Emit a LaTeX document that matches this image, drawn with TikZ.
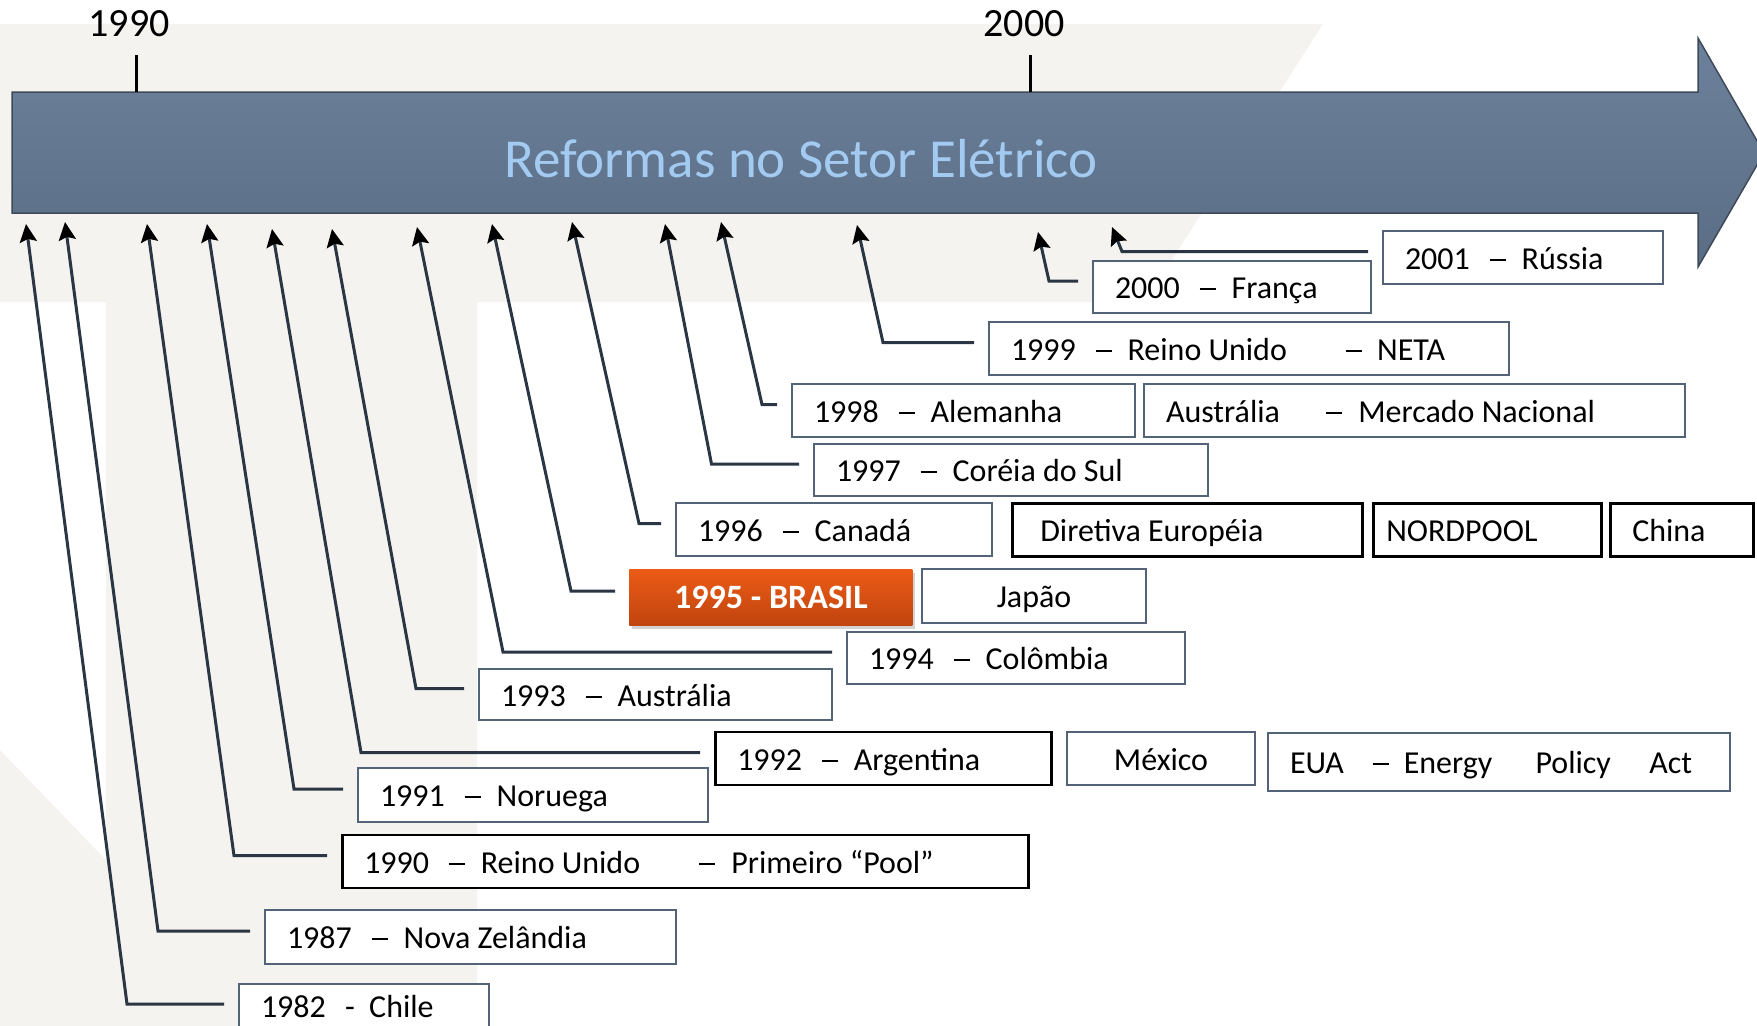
\documentclass[tikz,border=0pt]{standalone}
\usepackage{fontspec}
\setmainfont{Carlito}
\usetikzlibrary{arrows.meta,shadows}
\definecolor{fundo}{HTML}{F4F3EF}
\definecolor{barraA}{HTML}{6C819B}
\definecolor{barraB}{HTML}{5A6D85}
\definecolor{barraC}{HTML}{3E4A59}
\definecolor{titulo}{HTML}{A3CBF2}
\definecolor{caixa}{HTML}{536378}
\definecolor{linha}{HTML}{2A3644}
\definecolor{laranjaA}{HTML}{EC5B16}
\definecolor{laranjaB}{HTML}{C0450F}
\newcommand{\risco}{\rule[.27em]{.5em}{.055em}}
\newcommand{\traco}{\hspace{.62em}\risco\hspace{.5em}}

\begin{document}
\begin{tikzpicture}[x=0.2mm, y=-0.2mm]
	\tikzstyle{evento} = [rectangle, draw=caixa, line width=0.4mm, fill=white, anchor=west, inner xsep=4.4mm, inner ysep=0pt, minimum height=10.6mm, text height=17.1pt, text depth=3.6pt, font=\fontsize{18.2}{21}\selectfont]
	\tikzstyle{forte} = [evento, draw=black, line width=0.5mm]
	\tikzstyle{ano} = [anchor=base, font=\fontsize{22.8}{26}\selectfont]
	\tikzstyle{ligacao} = [draw=linha, line width=0.6mm, -{Stealth[length=3.6mm,width=3.4mm,inset=0.6mm,color=black]}]
	\useasboundingbox (0,0) rectangle (1757,1026);
	% fundo
	\fill[fundo] (0,24) -- (1323,24) -- (1145,302) -- (477,302) -- (477,1026) -- (0,1026)
		-- (0,750) -- (106,860) -- (106,302) -- (0,302) -- cycle;
	% seta do tempo
	\path[draw=barraC, line width=0.3mm, top color=barraA, bottom color=barraB]
		(12,92) -- (1698,92) -- (1698,38) -- (1764,153) -- (1698,267) -- (1698,213) -- (12,213) -- cycle;
	\node[anchor=base, text=titulo, font=\fontsize{31.3}{36}\selectfont](titulo) at (801,177){Reformas no Setor Elétrico};
	\node[ano](a1990) at (129,37){1990};
	\node[ano](a2000) at (1024,37){2000};
	\draw[line width=0.6mm] (136,55) -- (136,92);
	\draw[line width=0.6mm] (1030,55) -- (1030,92);
	% caixas
	\node[evento](russia) at (1382,257.5){\makebox[47.2mm][l]{2001\traco Rússia}};
	\node[evento, minimum height=10.4mm](franca) at (1092,287){\makebox[46.8mm][l]{2000\traco França}};
	\node[evento](neta) at (988,348.5){\makebox[95.2mm][l]{1999\traco Reino Unido\hspace{1.85em}\risco\hspace{.47em}NETA}};
	\node[evento](alemanha) at (791,410.5){\makebox[59.8mm][l]{1998\traco Alemanha}};
	\node[evento](mercado) at (1143,410.5){\makebox[99.4mm][l]{Austrália\hspace{1.45em}\risco\hspace{.5em}Mercado Nacional}};
	\node[evento, minimum height=10.4mm](coreia) at (813,470){\makebox[70mm][l]{1997\traco Coréia do Sul}};
	\node[evento](canada) at (675,529.5){\makebox[54.4mm][l]{1996\traco Canadá}};
	\node[forte, inner xsep=5.6mm](diretiva) at (1011,530){\makebox[58.8mm][l]{Diretiva Européia}};
	\node[forte, inner xsep=2.6mm](nordpool) at (1372,530){\makebox[40.4mm][l]{NORDPOOL}};
	\node[forte](china) at (1609,530){\makebox[19.8mm][l]{China}};
	\node[rectangle, anchor=west, top color=laranjaA, bottom color=laranjaB, text=white,
		minimum width=56.6mm, minimum height=11.2mm, font=\bfseries\fontsize{19.4}{22}\selectfont,
		drop shadow={opacity=0.35, shadow xshift=0.5mm, shadow yshift=-0.8mm}](brasil) at (629,597){1995 - BRASIL};
	\node[evento, minimum width=44.8mm, minimum height=10.8mm](japao) at (921,596){Japão};
	\node[evento, minimum height=10.4mm](colombia) at (846,658){\makebox[58.8mm][l]{1994\traco Colômbia}};
	\node[evento, minimum height=10.2mm](australia) at (478,694.5){\makebox[61.8mm][l]{1993\traco Austrália}};
	\node[forte](argentina) at (714,758.5){\makebox[58.4mm][l]{1992\traco Argentina}};
	\node[evento, minimum width=37.6mm](mexico) at (1066,758.5){México};
	\node[evento, minimum height=11.6mm](eua) at (1267,762){\makebox[83.6mm][l]{EUA\hspace{.9em}\risco\hspace{.47em}Energy\hspace{1.35em}Policy\hspace{1.2em}Act}};
	\node[evento, minimum height=10.8mm](noruega) at (357,795){\makebox[61.2mm][l]{1991\traco Noruega}};
	\node[forte](pool) at (341,861.5){\makebox[128.4mm][l]{1990\traco Reino Unido\hspace{1.85em}\risco\hspace{.5em}Primeiro “Pool”}};
	\node[evento, minimum height=10.8mm](novazel) at (264,937){\makebox[73.4mm][l]{1987\traco Nova Zelândia}};
	\node[evento, minimum height=8.8mm](chile) at (238,1006){\makebox[41.2mm][l]{1982\hspace{.6em}-\hspace{.45em}Chile}};
	% pontas na seta
	\foreach \n/\x/\y in {1982/26/224, 1987/65/222, 1990/147/224, 1991/207/224, 1992/272/229,
		1993/332/229, 1994/417/227, 1995/492/224, 1996/572/222, 1997/665/224, 1998/721/222,
		1999/857/225, 2000/1038/232, 2001/1112/227}
		\coordinate (t\n) at (\x,\y);
	% ligacoes
	\draw[ligacao] ([shift={(-14,-2)}]chile.west) -- ++(-97,0) -- (t1982);
	\draw[ligacao] ([shift={(-14,-6)}]novazel.west) -- ++(-92,0) -- (t1987);
	\draw[ligacao] ([shift={(-14,-6)}]pool.west) -- ++(-93,0) -- (t1990);
	\draw[ligacao] ([shift={(-14,-6)}]noruega.west) -- ++(-49,0) -- (t1991);
	\draw[ligacao] ([shift={(-14,-6)}]argentina.west) -- ++(-339,0) -- (t1992);
	\draw[ligacao] ([shift={(-14,-6)}]australia.west) -- ++(-48,0) -- (t1993);
	\draw[ligacao] ([shift={(-14,-6)}]colombia.west) -- ++(-329,0) -- (t1994);
	\draw[ligacao] ([shift={(-14,-6)}]brasil.west) -- ++(-44,0) -- (t1995);
	\draw[ligacao] ([shift={(-14,-6)}]canada.west) -- ++(-22,0) -- (t1996);
	\draw[ligacao] ([shift={(-14,-6)}]coreia.west) -- ++(-87.5,0) -- (t1997);
	\draw[ligacao] ([shift={(-14,-6)}]alemanha.west) -- ++(-15,0) -- (t1998);
	\draw[ligacao] ([shift={(-14,-6)}]neta.west) -- ++(-91,0) -- (t1999);
	\draw[ligacao] ([shift={(-14,-6)}]franca.west) -- ++(-29,0) -- (t2000);
	\draw[ligacao] ([shift={(-14,-6)}]russia.west) -- ++(-246,0) -- (t2001);
\end{tikzpicture}
\end{document}
